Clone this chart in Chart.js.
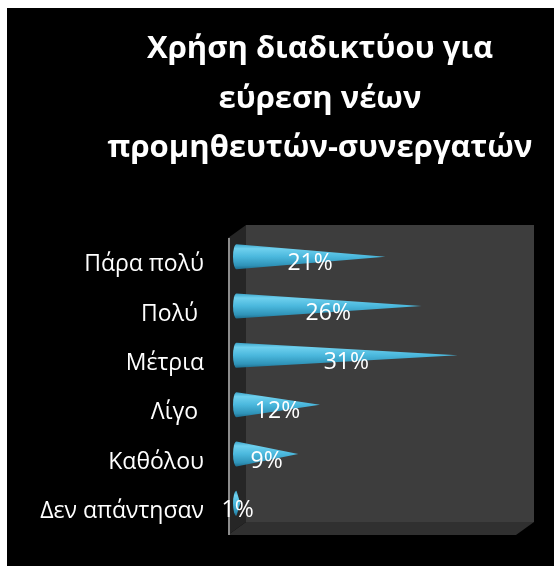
<!DOCTYPE html>
<html>
<head>
<meta charset="utf-8">
<script src="https://cdn.jsdelivr.net/npm/chart.js@4"></script>
<style>
  html, body { margin: 0; padding: 0; background: #fff; }
  #wrap { position: absolute; left: 7px; top: 8px; width: 547px; height: 558px; background: #000; }
</style>
</head>
<body>
<div id="wrap"><canvas id="usageChart" width="547" height="558"></canvas></div>
<script>
const categories = ["Πάρα πολύ", "Πολύ ", "Μέτρια", "Λίγο ", "Καθόλου", "Δεν απάντησαν"];
const shares = [21, 26, 31, 12, 9, 1];
const titleLines = ["Χρήση διαδικτύου για", "εύρεση νέων", "προμηθευτών-συνεργατών"];
const axisMax = 40;

const FONT = "'Open Sans', 'Noto Sans', sans-serif";

// grey 3D box behind the bars: back wall, left side wall and floor
const wallPlugin = {
  id: "wall",
  beforeDatasetsDraw(chart) {
    const ctx = chart.ctx;
    const ca = chart.chartArea;
    const dx = 18, dy = 13;
    const fl = ca.left - 5, fr = ca.right - 7, fb = ca.bottom + 7;
    const bt = ca.top - 7;
    const bl = fl + dx, br = fr + dx, bb = fb - dy;
    ctx.save();
    // back wall
    ctx.fillStyle = "#3d3d3d";
    ctx.fillRect(bl, bt, br - bl, bb - bt);
    // side wall
    ctx.fillStyle = "#262626";
    ctx.beginPath();
    ctx.moveTo(fl, bt + dy);
    ctx.lineTo(bl, bt);
    ctx.lineTo(bl, bb);
    ctx.lineTo(fl, fb);
    ctx.closePath();
    ctx.fill();
    // floor
    ctx.fillStyle = "#303030";
    ctx.beginPath();
    ctx.moveTo(fl, fb);
    ctx.lineTo(bl, bb);
    ctx.lineTo(br, bb);
    ctx.lineTo(fr, fb);
    ctx.closePath();
    ctx.fill();
    // axis line
    ctx.strokeStyle = "#8c8c8c";
    ctx.lineWidth = 2;
    ctx.beginPath();
    ctx.moveTo(fl + 1, bt + dy);
    ctx.lineTo(fl + 1, fb);
    ctx.stroke();
    ctx.restore();
  }
};

// cones drawn over each bar element, plus value labels
const conePlugin = {
  id: "cones",
  afterDatasetsDraw(chart) {
    const ctx = chart.ctx;
    const meta = chart.getDatasetMeta(0);
    ctx.save();
    meta.data.forEach((bar, i) => {
      const r = bar.height / 2;
      const rx = Math.min(3.5, (bar.x - bar.base) / 2);
      const x0 = bar.base + rx;
      const y = bar.y;
      const g = ctx.createLinearGradient(0, y - r, 0, y + r);
      g.addColorStop(0, "#3aa3c8");
      g.addColorStop(0.18, "#6fd0ee");
      g.addColorStop(0.5, "#4bb8dd");
      g.addColorStop(0.85, "#2f93b8");
      g.addColorStop(1, "#1e6e8e");
      ctx.fillStyle = g;
      ctx.beginPath();
      ctx.moveTo(x0, y - r);
      ctx.lineTo(Math.max(bar.x, x0), y);
      ctx.lineTo(x0, y + r);
      ctx.ellipse(x0, y, rx, r, 0, Math.PI / 2, Math.PI * 1.5);
      ctx.closePath();
      ctx.fill();

      ctx.fillStyle = "#ffffff";
      ctx.font = "23px " + FONT;
      ctx.textAlign = "center";
      ctx.textBaseline = "middle";
      ctx.fillText(shares[i] + "%", (bar.base + bar.x) / 2 + 1, y + 7);
    });
    ctx.restore();
  }
};

// three-line bold heading
const headingPlugin = {
  id: "heading",
  afterDraw(chart) {
    const ctx = chart.ctx;
    const cx = 313;
    ctx.save();
    ctx.fillStyle = "#ffffff";
    ctx.textAlign = "center";
    ctx.textBaseline = "alphabetic";
    ctx.font = "bold 31px " + FONT;
    titleLines.forEach((line, i) => {
      ctx.fillText(line, cx, 50 + i * 49.5);
    });
    ctx.restore();
  }
};

const ctx = document.getElementById("usageChart").getContext("2d");
new Chart(ctx, {
  type: "bar",
  data: {
    labels: categories,
    datasets: [{
      data: shares,
      backgroundColor: "rgba(0,0,0,0)",
      barThickness: 25
    }]
  },
  options: {
    indexAxis: "y",
    responsive: false,
    animation: false,
    layout: { padding: { left: 0, right: 31, top: 224, bottom: 38 } },
    plugins: {
      legend: { display: false },
      tooltip: { enabled: false },
      title: { display: false }
    },
    scales: {
      x: { display: false, min: 0, max: axisMax },
      y: {
        grid: { display: false },
        border: { display: false },
        afterFit(scale) { scale.width = 226; },
        ticks: {
          color: "#ffffff",
          padding: 21,
          labelOffset: 8,
          font: { family: FONT, size: 23 }
        }
      }
    }
  },
  plugins: [wallPlugin, conePlugin, headingPlugin]
});
</script>
</body>
</html>
